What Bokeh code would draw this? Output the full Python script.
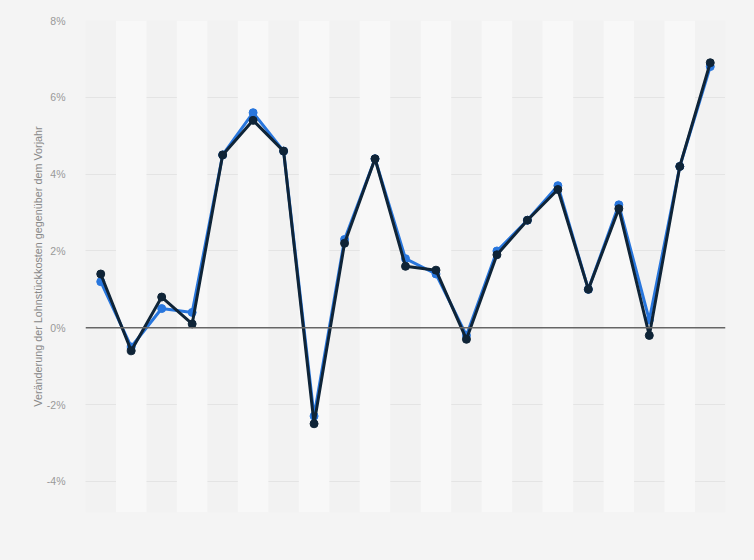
from bokeh.plotting import figure
from bokeh.models import Range1d, FixedTicker, Span, ColumnDataSource
from bokeh.embed import file_html
from bokeh.resources import INLINE

# ---- data ----
periods = list(range(1, 22))
series_blue = [1.2, -0.5, 0.5, 0.4, 4.5, 5.6, 4.6, -2.3, 2.3, 4.4, 1.8,
               1.4, -0.2, 2.0, 2.8, 3.7, 1.0, 3.2, 0.2, 4.2, 6.8]
series_dark = [1.4, -0.6, 0.8, 0.1, 4.5, 5.4, 4.6, -2.5, 2.2, 4.4, 1.6,
               1.5, -0.3, 1.9, 2.8, 3.6, 1.0, 3.1, -0.2, 4.2, 6.9]
y_ticks = [-4, -2, 0, 2, 4, 6, 8]
y_tick_labels = ["-4%", "-2%", "0%", "2%", "4%", "6%", "8%"]
y_label = "Veränderung der Lohnstückkosten gegenüber dem Vorjahr"

BG = "#f4f4f4"
FONT = "Liberation Sans"

x0, x1 = 0.5, len(periods) + 0.5
p = figure(width=738, height=544, output_backend="svg", toolbar_location=None,
           x_range=Range1d(x0, x1), y_range=Range1d(-4.81, 8))
p.min_border_left = 77
p.min_border_right = 21
p.min_border_top = 12
p.min_border_bottom = 40
p.background_fill_color = "#f2f2f2"
p.border_fill_color = BG
p.outline_line_color = None

# alternating bands
band_x = [x for i, x in enumerate(periods) if i % 2 == 1]
p.vbar(x=band_x, width=1, bottom=-4.81, top=8, fill_color="#f8f8f8", line_color=None)

# axes
p.xaxis.visible = False
p.xgrid.visible = False
p.yaxis.ticker = FixedTicker(ticks=y_ticks)
p.yaxis.major_label_overrides = {t: l for t, l in zip(y_ticks, y_tick_labels)}
p.yaxis.axis_line_color = None
p.yaxis.major_tick_line_color = None
p.yaxis.minor_tick_line_color = None
p.yaxis.major_label_standoff = 14
p.yaxis.major_label_text_font = FONT
p.yaxis.major_label_text_font_size = "10.5px"
p.yaxis.major_label_text_color = "#999999"
p.yaxis.axis_label = y_label
p.yaxis.axis_label_standoff = 0
p.yaxis.axis_label_text_font = FONT
p.yaxis.axis_label_text_font_size = "10.8px"
p.yaxis.axis_label_text_font_style = "normal"
p.yaxis.axis_label_text_color = "#888888"
p.ygrid.ticker = FixedTicker(ticks=[t for t in y_ticks if t != 0])
p.ygrid.grid_line_color = "#d6d6d6"
p.ygrid.grid_line_dash = "1 1"
p.ygrid.grid_line_width = 1

p.add_layout(Span(location=0, dimension="width", line_color="#666666", line_width=1.5))

src = ColumnDataSource(dict(x=periods, blue=series_blue, dark=series_dark))
p.line("x", "blue", source=src, line_color="#2876dd", line_width=3)
p.scatter("x", "blue", source=src, size=8, fill_color="#2876dd", line_color="#2876dd")
p.line("x", "dark", source=src, line_color="#0f2437", line_width=3)
p.scatter("x", "dark", source=src, size=8, fill_color="#0f2437", line_color="#0f2437")

html = file_html(p, INLINE)
html = html.replace("</head>", "<style>body{background:%s;margin:8px;}</style></head>" % BG, 1)
open("out.html", "w").write(html)
